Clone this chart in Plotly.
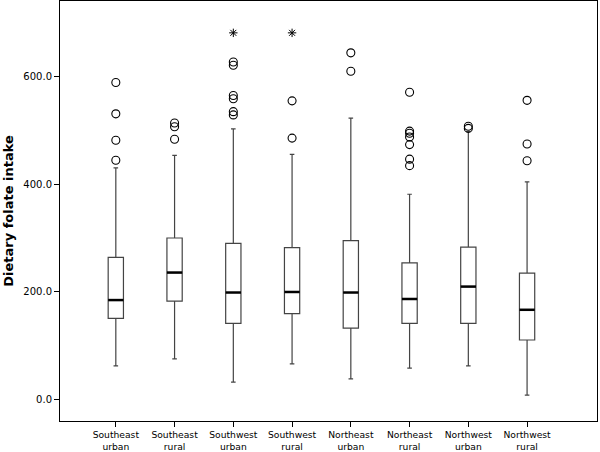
import plotly.graph_objects as go

# ------------------------------------------------------------------------------------------------------------
# Data
groups = ['Southeast<br>urban', 'Southeast<br>rural', 'Southwest<br>urban', 'Southwest<br>rural',
          'Northeast<br>urban', 'Northeast<br>rural', 'Northwest<br>urban', 'Northwest<br>rural']
lower_whisker = [63, 76, 33, 67, 39, 59, 63, 9]
q1 = [151, 183, 142, 160, 133, 142, 142, 111]
median = [185, 236, 199, 200, 199, 187, 210, 167]
q3 = [264, 300, 290, 282, 295, 254, 283, 235]
upper_whisker = [430, 453, 502, 455, 522, 381, 497, 404]

outliers = [
    [588, 530, 481, 444],
    [513, 506, 483],
    [626, 620, 564, 558, 534, 528],
    [554, 485],
    [643, 609],
    [570, 498, 494, 487, 473, 446, 434],
    [507, 503],
    [555, 474, 443],
]
extremes = [[], [], [680], [680], [], [], [], []]

pos = list(range(len(groups)))
box_w = 0.26

# ------------------------------------------------------------------------------------------------------------
fig = go.Figure()
fig.add_trace(go.Box(
    x=pos, q1=q1, median=median, q3=q3,
    lowerfence=lower_whisker, upperfence=upper_whisker,
    width=box_w, whiskerwidth=0.3,
    fillcolor='white', line=dict(color='#444444', width=1.2),
    boxpoints=False, showlegend=False, hoverinfo='skip'))

# thicker median lines, SPSS style
for i, m in zip(pos, median):
    fig.add_trace(go.Scatter(x=[i - box_w / 2, i + box_w / 2], y=[m, m], mode='lines',
                             line=dict(color='black', width=2.5), showlegend=False, hoverinfo='skip'))

# outliers (circles) and extremes (stars)
ox = [i for i, vals in zip(pos, outliers) for _ in vals]
oy = [v for vals in outliers for v in vals]
fig.add_trace(go.Scatter(x=ox, y=oy, mode='markers',
                         marker=dict(symbol='circle-open', size=8, color='black', line=dict(width=1.1)),
                         showlegend=False))
ex = [i for i, vals in zip(pos, extremes) for _ in vals]
ey = [v for vals in extremes for v in vals]
fig.add_trace(go.Scatter(x=ex, y=ey, mode='markers',
                         marker=dict(symbol='asterisk-open', size=7, color='black', line=dict(width=1, color='black')),
                         showlegend=False))

fig.update_xaxes(
    range=[-0.95, 8.19], tickvals=pos, ticktext=groups, automargin=False,
    ticks='outside', ticklen=5, tickcolor='black',
    showline=True, linecolor='black', linewidth=1, mirror=True,
    showgrid=False, zeroline=False,
    tickfont=dict(family='DejaVu Sans', size=9.2, color='black'))
fig.update_yaxes(
    range=[-39, 739], tickvals=[0, 200, 400, 600], ticktext=['0.0', '200.0', '400.0', '600.0'],
    automargin=False,
    ticks='outside', ticklen=5, tickcolor='black',
    showline=True, linecolor='black', linewidth=1, mirror=True,
    showgrid=False, zeroline=False,
    tickfont=dict(family='DejaVu Sans', size=10, color='black'),
    title_text='<b>Dietary folate intake</b>',
    title_font=dict(family='DejaVu Sans', size=13, color='black'),
    title_standoff=6)

fig.update_layout(
    width=600, height=452,
    margin=dict(l=60, r=3, t=1, b=31),
    plot_bgcolor='white', paper_bgcolor='white')

# drop the default page margin so the figure sits at the window's corner
fig.write_html("out.html", config={'displayModeBar': False},
               post_script="document.body.style.margin='0';")
